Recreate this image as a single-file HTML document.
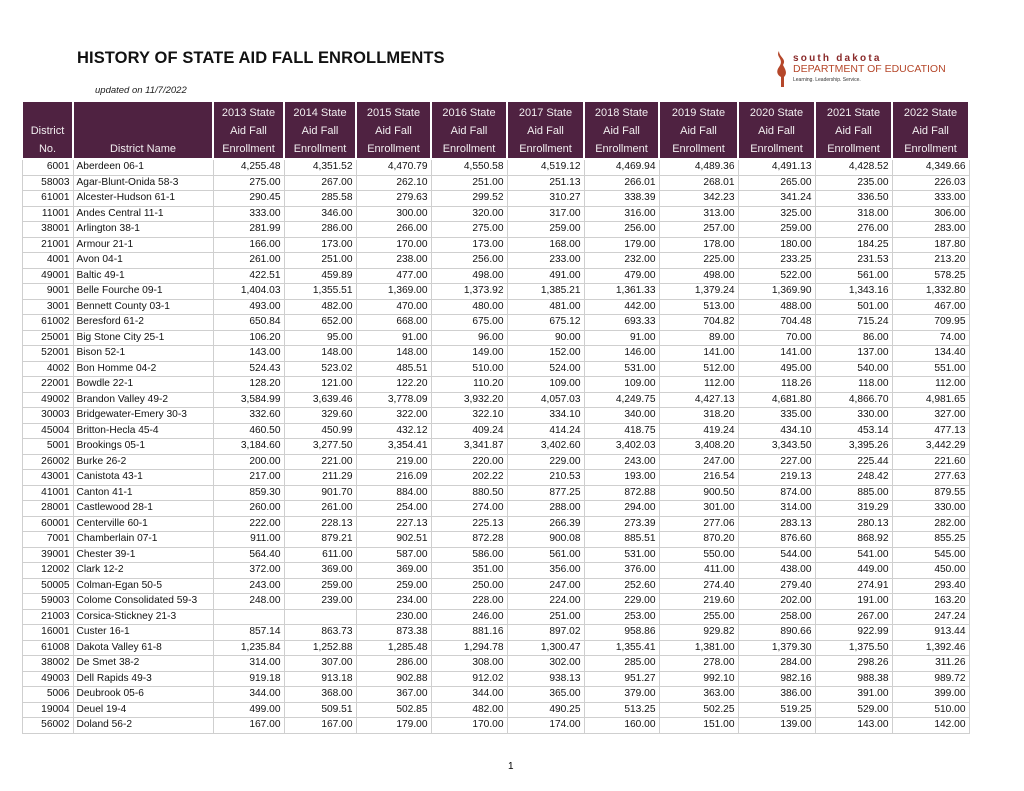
<!DOCTYPE html>
<html><head><meta charset="utf-8"><style>
body{margin:0;background:#fff;width:1024px;height:791px;position:relative;overflow:hidden;font-family:"Liberation Sans",sans-serif;}
#title{position:absolute;left:77px;top:49px;font-size:16.5px;font-weight:bold;color:#111;letter-spacing:0.1px}
#upd{position:absolute;left:95px;top:85px;font-size:9.5px;font-style:italic;color:#222}
#logo{position:absolute;left:773px;top:47px;width:190px;height:45px}
table{position:absolute;left:21px;top:100px;border-collapse:collapse;table-layout:fixed;width:947px;font-size:10.2px;color:#111}
th{background:#4f2241;color:#f2eef0;font-weight:normal;font-size:11px;line-height:18px;border:2px solid #fff;padding:0 1px;vertical-align:bottom;text-align:center;white-space:nowrap}
td{height:14.5px;border:1px solid #cfcfcf;padding:0 3px;white-space:nowrap;overflow:hidden;line-height:14px}
td.n{text-align:right}
#pg{position:absolute;left:508px;top:761px;font-size:10px}
</style></head><body>
<div id="title">HISTORY OF STATE AID FALL ENROLLMENTS</div>
<div id="upd">updated on 11/7/2022</div>
<svg id="logo" viewBox="0 0 190 45">
<path d="M6 4 C2 10 12 12 6 20 C3 24 4 28 8 30 L8 40 L11 40 L11 30 C15 26 12 22 10 18 C14 12 6 10 6 4Z" fill="#b5472a"/>
<text x="20" y="14" font-size="10" font-weight="bold" fill="#8a2a2a" letter-spacing="2.2" font-family="Liberation Sans,sans-serif">south dakota</text>
<text x="20" y="25" font-size="10.5" fill="#b5472a" font-family="Liberation Sans,sans-serif">DEPARTMENT OF EDUCATION</text>
<text x="20" y="34" font-size="5" fill="#333" font-family="Liberation Sans,sans-serif">Learning. Leadership. Service.</text>
</svg>
<table id="tbl">
<colgroup><col style="width:51px"><col style="width:140px"><col style="width:71px"><col style="width:72px"><col style="width:75px"><col style="width:76px"><col style="width:77px"><col style="width:75px"><col style="width:79px"><col style="width:77px"><col style="width:77px"><col style="width:77px"></colgroup>
<thead><tr style="height:58px">
<th>District<br>No.</th>
<th>District Name</th>
<th>2013 State<br>Aid Fall<br>Enrollment</th><th>2014 State<br>Aid Fall<br>Enrollment</th><th>2015 State<br>Aid Fall<br>Enrollment</th><th>2016 State<br>Aid Fall<br>Enrollment</th><th>2017 State<br>Aid Fall<br>Enrollment</th><th>2018 State<br>Aid Fall<br>Enrollment</th><th>2019 State<br>Aid Fall<br>Enrollment</th><th>2020 State<br>Aid Fall<br>Enrollment</th><th>2021 State<br>Aid Fall<br>Enrollment</th><th>2022 State<br>Aid Fall<br>Enrollment</th>
</tr></thead><tbody id="tb"></tbody></table>
<div id="pg">1</div>
<script>
const rows=`6001|Aberdeen 06-1|4,255.48|4,351.52|4,470.79|4,550.58|4,519.12|4,469.94|4,489.36|4,491.13|4,428.52|4,349.66
58003|Agar-Blunt-Onida 58-3|275.00|267.00|262.10|251.00|251.13|266.01|268.01|265.00|235.00|226.03
61001|Alcester-Hudson 61-1|290.45|285.58|279.63|299.52|310.27|338.39|342.23|341.24|336.50|333.00
11001|Andes Central 11-1|333.00|346.00|300.00|320.00|317.00|316.00|313.00|325.00|318.00|306.00
38001|Arlington 38-1|281.99|286.00|266.00|275.00|259.00|256.00|257.00|259.00|276.00|283.00
21001|Armour 21-1|166.00|173.00|170.00|173.00|168.00|179.00|178.00|180.00|184.25|187.80
4001|Avon 04-1|261.00|251.00|238.00|256.00|233.00|232.00|225.00|233.25|231.53|213.20
49001|Baltic 49-1|422.51|459.89|477.00|498.00|491.00|479.00|498.00|522.00|561.00|578.25
9001|Belle Fourche 09-1|1,404.03|1,355.51|1,369.00|1,373.92|1,385.21|1,361.33|1,379.24|1,369.90|1,343.16|1,332.80
3001|Bennett County 03-1|493.00|482.00|470.00|480.00|481.00|442.00|513.00|488.00|501.00|467.00
61002|Beresford 61-2|650.84|652.00|668.00|675.00|675.12|693.33|704.82|704.48|715.24|709.95
25001|Big Stone City 25-1|106.20|95.00|91.00|96.00|90.00|91.00|89.00|70.00|86.00|74.00
52001|Bison 52-1|143.00|148.00|148.00|149.00|152.00|146.00|141.00|141.00|137.00|134.40
4002|Bon Homme 04-2|524.43|523.02|485.51|510.00|524.00|531.00|512.00|495.00|540.00|551.00
22001|Bowdle 22-1|128.20|121.00|122.20|110.20|109.00|109.00|112.00|118.26|118.00|112.00
49002|Brandon Valley 49-2|3,584.99|3,639.46|3,778.09|3,932.20|4,057.03|4,249.75|4,427.13|4,681.80|4,866.70|4,981.65
30003|Bridgewater-Emery 30-3|332.60|329.60|322.00|322.10|334.10|340.00|318.20|335.00|330.00|327.00
45004|Britton-Hecla 45-4|460.50|450.99|432.12|409.24|414.24|418.75|419.24|434.10|453.14|477.13
5001|Brookings 05-1|3,184.60|3,277.50|3,354.41|3,341.87|3,402.60|3,402.03|3,408.20|3,343.50|3,395.26|3,442.29
26002|Burke 26-2|200.00|221.00|219.00|220.00|229.00|243.00|247.00|227.00|225.44|221.60
43001|Canistota 43-1|217.00|211.29|216.09|202.22|210.53|193.00|216.54|219.13|248.42|277.63
41001|Canton 41-1|859.30|901.70|884.00|880.50|877.25|872.88|900.50|874.00|885.00|879.55
28001|Castlewood 28-1|260.00|261.00|254.00|274.00|288.00|294.00|301.00|314.00|319.29|330.00
60001|Centerville 60-1|222.00|228.13|227.13|225.13|266.39|273.39|277.06|283.13|280.13|282.00
7001|Chamberlain 07-1|911.00|879.21|902.51|872.28|900.08|885.51|870.20|876.60|868.92|855.25
39001|Chester 39-1|564.40|611.00|587.00|586.00|561.00|531.00|550.00|544.00|541.00|545.00
12002|Clark 12-2|372.00|369.00|369.00|351.00|356.00|376.00|411.00|438.00|449.00|450.00
50005|Colman-Egan 50-5|243.00|259.00|259.00|250.00|247.00|252.60|274.40|279.40|274.91|293.40
59003|Colome Consolidated 59-3|248.00|239.00|234.00|228.00|224.00|229.00|219.60|202.00|191.00|163.20
21003|Corsica-Stickney 21-3|||230.00|246.00|251.00|253.00|255.00|258.00|267.00|247.24
16001|Custer 16-1|857.14|863.73|873.38|881.16|897.02|958.86|929.82|890.66|922.99|913.44
61008|Dakota Valley 61-8|1,235.84|1,252.88|1,285.48|1,294.78|1,300.47|1,355.41|1,381.00|1,379.30|1,375.50|1,392.46
38002|De Smet 38-2|314.00|307.00|286.00|308.00|302.00|285.00|278.00|284.00|298.26|311.26
49003|Dell Rapids 49-3|919.18|913.18|902.88|912.02|938.13|951.27|992.10|982.16|988.38|989.72
5006|Deubrook 05-6|344.00|368.00|367.00|344.00|365.00|379.00|363.00|386.00|391.00|399.00
19004|Deuel 19-4|499.00|509.51|502.85|482.00|490.25|513.25|502.25|519.25|529.00|510.00
56002|Doland 56-2|167.00|167.00|179.00|170.00|174.00|160.00|151.00|139.00|143.00|142.00`.split('\n');
const tb=document.getElementById('tb');
rows.forEach(r=>{const c=r.split('|');
 const tr=document.createElement('tr');
 
 
 c.forEach((v,i)=>{const td=document.createElement('td');td.textContent=v;if(i!==1)td.className='n';
  
  tr.appendChild(td);});
 tb.appendChild(tr);});
</script>
</body></html>
